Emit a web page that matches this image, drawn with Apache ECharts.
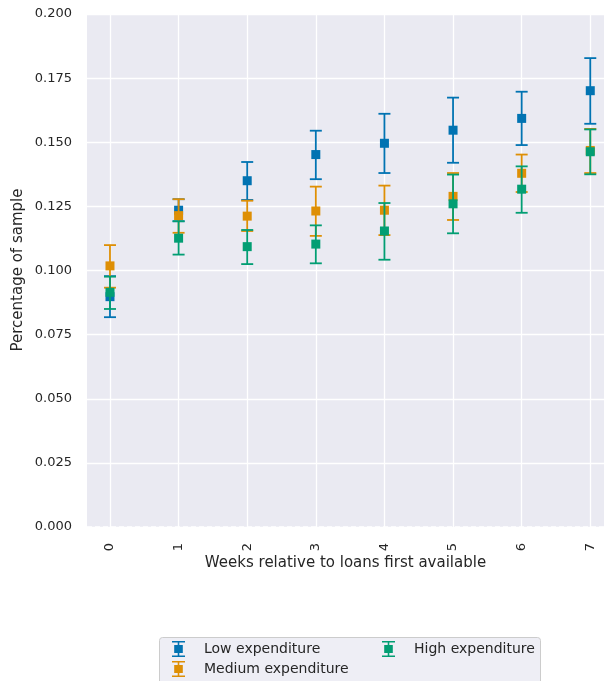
<!DOCTYPE html>
<html>
<head>
<meta charset="utf-8">
<script src="https://cdn.jsdelivr.net/npm/echarts@6/dist/echarts.min.js"></script>
<style>html,body{margin:0;padding:0;background:#fff}#c{width:604px;height:681px}</style>
</head>
<body>
<div id="c"></div>
<script>
const weeks = [0, 1, 2, 3, 4, 5, 6, 7];
const yTicks = [0, 0.025, 0.05, 0.075, 0.1, 0.125, 0.15, 0.175, 0.2];

const lowMean = [0.0898, 0.1235, 0.1350, 0.1452, 0.1496, 0.1547, 0.1593, 0.1701];
const lowLo   = [0.0818, 0.1192, 0.1275, 0.1356, 0.1380, 0.1420, 0.1489, 0.1572];
const lowHi   = [0.0978, 0.1278, 0.1423, 0.1545, 0.1611, 0.1674, 0.1697, 0.1828];

const medMean = [0.1018, 0.1214, 0.1212, 0.1232, 0.1235, 0.1289, 0.1379, 0.1468];
const medLo   = [0.0933, 0.1147, 0.1154, 0.1135, 0.1138, 0.1197, 0.1306, 0.1380];
const medHi   = [0.1099, 0.1278, 0.1272, 0.1327, 0.1331, 0.1380, 0.1452, 0.1552];

const highMean = [0.0915, 0.1126, 0.1093, 0.1103, 0.1154, 0.1260, 0.1317, 0.1463];
const highLo   = [0.0850, 0.1062, 0.1025, 0.1028, 0.1042, 0.1145, 0.1225, 0.1375];
const highHi   = [0.0976, 0.1192, 0.1158, 0.1176, 0.1263, 0.1374, 0.1406, 0.1550];

const names = ['Low expenditure', 'Medium expenditure', 'High expenditure'];
const colors = ['#0173B2', '#DE8F05', '#029E73'];
const groups = [[lowMean, lowLo, lowHi], [medMean, medLo, medHi], [highMean, highLo, highHi]];
const yTitle = 'Percentage of sample';
const xTitle = 'Weeks relative to loans first available';

const icon = 'path://M0,0H13V1.6H0Z M5.7,0H7.3V16H5.7Z M2.2,4H10.8V12H2.2Z M0,14.4H13V16H0Z';
const TXT = '#262626';
const FONT = 'DejaVu Sans';

function errSeries(name, color, mean, lo, hi, z) {
  return {
    type: 'custom', name: name, z: z,
    data: weeks.map((w, i) => [w, lo[i], hi[i]]),
    renderItem: function (params, api) {
      const x = api.value(0);
      const p1 = api.coord([x, api.value(1)]);
      const p2 = api.coord([x, api.value(2)]);
      const hw = 6;
      const st = { stroke: color, lineWidth: 1.8 };
      return {
        type: 'group',
        children: [
          { type: 'line', shape: { x1: p1[0], y1: p1[1], x2: p2[0], y2: p2[1] }, style: st },
          { type: 'line', shape: { x1: p1[0] - hw, y1: p1[1], x2: p1[0] + hw, y2: p1[1] }, style: st },
          { type: 'line', shape: { x1: p2[0] - hw, y1: p2[1], x2: p2[0] + hw, y2: p2[1] }, style: st }
        ]
      };
    }
  };
}

const series = [];
series.push({
  type: 'line', name: 'grid', data: [], silent: true, z: 1,
  markLine: {
    silent: true, symbol: 'none', label: { show: false }, z: 1,
    lineStyle: { color: '#ffffff', width: 1.3, type: 'solid' },
    data: weeks.map(w => ({ xAxis: w }))
  }
});
series.push({
  type: 'line', name: 'zero', data: [], silent: true, z: 1,
  markLine: {
    silent: true, symbol: 'none', label: { show: false }, z: 1,
    lineStyle: { color: '#ffffff', width: 1.5, type: [5, 3] },
    data: [{ yAxis: 0 }]
  }
});
groups.forEach((g, k) => {
  series.push(errSeries(names[k], colors[k], g[0], g[1], g[2], 10 + 2 * k));
  series.push({
    type: 'scatter', name: names[k], z: 11 + 2 * k,
    symbol: 'rect', symbolSize: 9,
    itemStyle: { color: colors[k], opacity: 1 },
    data: weeks.map((w, i) => [w, g[0][i]])
  });
});

const chart = echarts.init(document.getElementById('c'), null, { renderer: 'canvas' });
chart.setOption({
  animation: false,
  textStyle: { fontFamily: FONT },
  grid: { left: 87, right: 0, top: 14, bottom: 154, show: true, backgroundColor: '#EAEAF2', borderWidth: 0 },
  xAxis: {
    type: 'value', min: -0.335, max: 7.2,
    name: xTitle, nameLocation: 'middle', nameGap: 29,
    nameMoveOverlap: false,
    nameTextStyle: { color: TXT, fontSize: 15, fontFamily: FONT },
    axisLine: { show: false }, axisTick: { show: false }, splitLine: { show: false },
    axisLabel: { customValues: weeks, rotate: 90, margin: 16, color: TXT, fontSize: 13, fontFamily: FONT,
      formatter: v => String(v) }
  },
  yAxis: {
    type: 'value', min: 0, max: 0.2, interval: 0.025,
    axisLine: { show: false }, axisTick: { show: false },
    splitLine: { lineStyle: { color: '#ffffff', width: 1.3 } },
    axisLabel: { margin: 15, color: TXT, fontSize: 13, fontFamily: FONT, formatter: v => v.toFixed(3) }
  },
  graphic: [{
    type: 'rect', left: 159, top: 637, z: 0,
    shape: { width: 381, height: 60, r: 3 },
    style: { fill: 'rgba(234,234,242,0.8)', stroke: '#cccccc', lineWidth: 1 }
  }, {
    type: 'text', x: 18, y: 270, rotation: Math.PI / 2, z: 5,
    style: { text: yTitle, fill: TXT, font: '15px "DejaVu Sans"', align: 'center', verticalAlign: 'middle' }
  }],
  legend: [{
    orient: 'vertical', left: 172, top: 641, padding: 0, itemGap: 4,
    itemWidth: 13, itemHeight: 16, selectedMode: false,
    textStyle: { color: TXT, fontSize: 14, fontFamily: FONT, padding: [0, 0, 0, 14] },
    data: [{ name: names[0], icon: icon, itemStyle: { color: colors[0] } },
           { name: names[1], icon: icon, itemStyle: { color: colors[1] } }]
  }, {
    orient: 'vertical', left: 382, top: 641, padding: 0, itemGap: 4,
    itemWidth: 13, itemHeight: 16, selectedMode: false,
    textStyle: { color: TXT, fontSize: 14, fontFamily: FONT, padding: [0, 0, 0, 14] },
    data: [{ name: names[2], icon: icon, itemStyle: { color: colors[2] } }]
  }],
  series: series
});
</script>
</body>
</html>
